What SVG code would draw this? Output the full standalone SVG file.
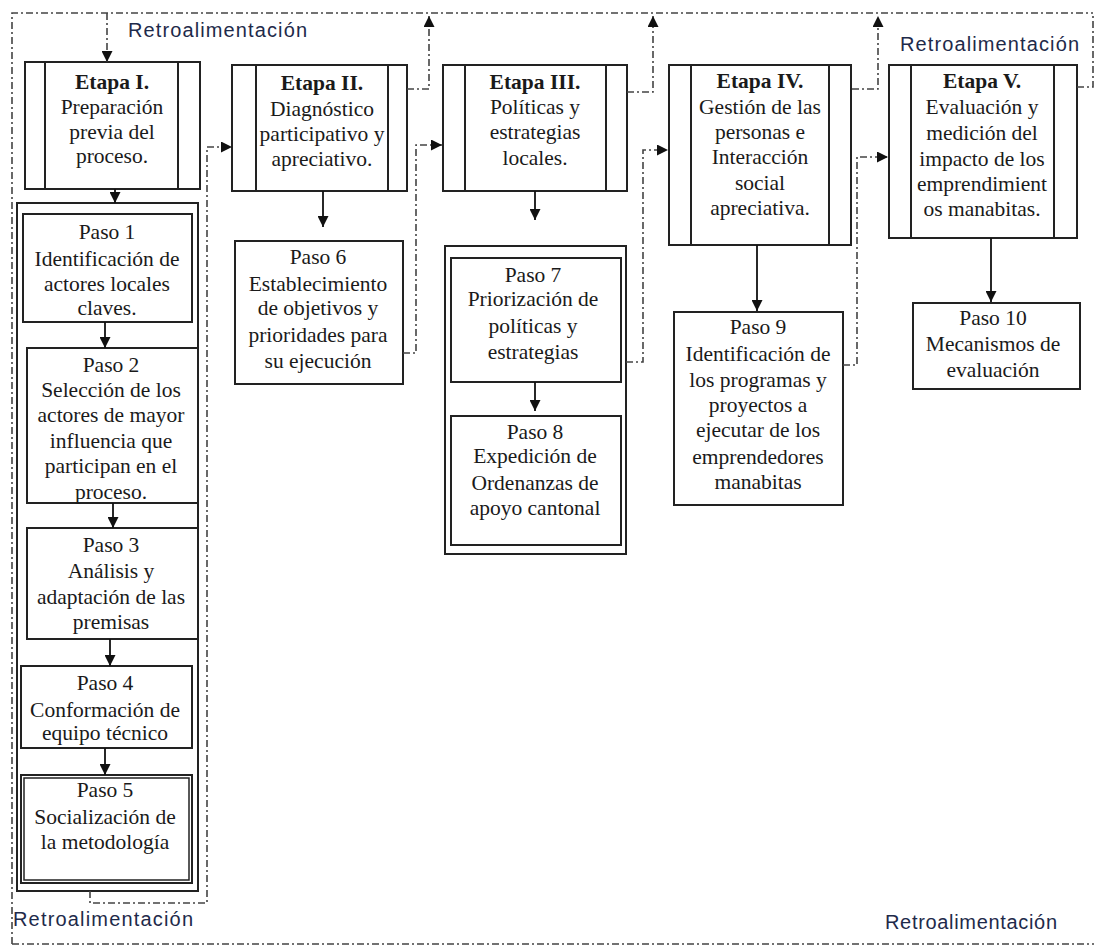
<svg xmlns="http://www.w3.org/2000/svg" width="1094" height="949" viewBox="0 0 1094 949">
<style>
.bx{fill:#fff;stroke:#222;stroke-width:2}
.ct{fill:none;stroke:#222;stroke-width:2}
.ln{stroke:#222;stroke-width:2}
.t{font-family:"Liberation Serif","Times New Roman",serif;font-size:21.5px;fill:#1a1a1a;text-anchor:middle}
.b{font-weight:bold}
.r{font-family:"Liberation Sans",Arial,sans-serif;font-size:20px;fill:#1e2a4a}
.dd{fill:none;stroke:#444;stroke-width:1.6;stroke-dasharray:7 3 2 3}
.sa{fill:none;stroke:#111;stroke-width:1.8}
</style>
<defs>
<marker id="ah" viewBox="0 0 10 10" refX="10" refY="5" markerWidth="11" markerHeight="11" markerUnits="userSpaceOnUse" orient="auto"><path d="M0,0 L10,5 L0,10 z" fill="#111"/></marker>
</defs>
<rect width="1094" height="949" fill="#fff"/>

<g id="labels">
<text class="r" x="128" y="37" textLength="179" lengthAdjust="spacing">Retroalimentación</text>
<text class="r" x="900" y="51" textLength="179" lengthAdjust="spacing">Retroalimentación</text>
<text class="r" x="13" y="926" textLength="180" lengthAdjust="spacing">Retroalimentación</text>
<text class="r" x="885" y="929" textLength="172" lengthAdjust="spacing">Retroalimentación</text>
</g>

<g id="etapa1">
<rect class="bx" x="25" y="62" width="175" height="127"/>
<line class="ln" x1="45" y1="62" x2="45" y2="189"/><line class="ln" x1="178" y1="62" x2="178" y2="189"/>
<text class="t b" x="112" y="89">Etapa I.</text>
<text class="t" x="112" y="114">Preparación</text>
<text class="t" x="112" y="139">previa del</text>
<text class="t" x="112" y="163">proceso.</text>
</g>

<g id="etapa2">
<rect class="bx" x="232" y="65" width="175" height="126"/>
<line class="ln" x1="256" y1="65" x2="256" y2="191"/><line class="ln" x1="388" y1="65" x2="388" y2="191"/>
<text class="t b" x="322" y="90">Etapa II.</text>
<text class="t" x="322" y="116">Diagnóstico</text>
<text class="t" x="322" y="141">participativo y</text>
<text class="t" x="322" y="166">apreciativo.</text>
</g>

<g id="etapa3">
<rect class="bx" x="443" y="65" width="184" height="126"/>
<line class="ln" x1="465" y1="65" x2="465" y2="191"/><line class="ln" x1="606" y1="65" x2="606" y2="191"/>
<text class="t b" x="535" y="89">Etapa III.</text>
<text class="t" x="535" y="114">Políticas y</text>
<text class="t" x="535" y="139">estrategias</text>
<text class="t" x="535" y="165">locales.</text>
</g>

<g id="etapa4">
<rect class="bx" x="669" y="65" width="182" height="180"/>
<line class="ln" x1="691" y1="65" x2="691" y2="245"/><line class="ln" x1="829" y1="65" x2="829" y2="245"/>
<text class="t b" x="760" y="88">Etapa IV.</text>
<text class="t" x="760" y="114">Gestión de las</text>
<text class="t" x="760" y="139">personas e</text>
<text class="t" x="760" y="164">Interacción</text>
<text class="t" x="760" y="190">social</text>
<text class="t" x="760" y="215">apreciativa.</text>
</g>

<g id="etapa5">
<rect class="bx" x="889" y="65" width="188" height="173"/>
<line class="ln" x1="911" y1="65" x2="911" y2="238"/><line class="ln" x1="1054" y1="65" x2="1054" y2="238"/>
<text class="t b" x="982" y="88">Etapa V.</text>
<text class="t" x="982" y="114">Evaluación y</text>
<text class="t" x="982" y="140">medición del</text>
<text class="t" x="982" y="166">impacto de los</text>
<text class="t" x="982" y="191">emprendimient</text>
<text class="t" x="982" y="216">os manabitas.</text>
</g>

<g id="container1">
<rect class="ct" x="17" y="203" width="181" height="688"/>
</g>

<g id="paso1">
<rect class="bx" x="23" y="214" width="169" height="108"/>
<text class="t" x="107" y="239">Paso 1</text>
<text class="t" x="107" y="266">Identificación de</text>
<text class="t" x="107" y="291">actores locales</text>
<text class="t" x="107" y="315">claves.</text>
</g>

<g id="paso2">
<rect class="bx" x="27" y="348" width="171" height="155"/>
<text class="t" x="111" y="372">Paso 2</text>
<text class="t" x="111" y="397">Selección de los</text>
<text class="t" x="111" y="422">actores de mayor</text>
<text class="t" x="111" y="448">influencia que</text>
<text class="t" x="111" y="473">participan en el</text>
<text class="t" x="111" y="499">proceso.</text>
</g>

<g id="paso3">
<rect class="bx" x="27" y="528" width="171" height="111"/>
<text class="t" x="111" y="552">Paso 3</text>
<text class="t" x="111" y="578">Análisis y</text>
<text class="t" x="111" y="604">adaptación de las</text>
<text class="t" x="111" y="629">premisas</text>
</g>

<g id="paso4">
<rect class="bx" x="21" y="666" width="171" height="82"/>
<text class="t" x="105" y="690">Paso 4</text>
<text class="t" x="105" y="717">Conformación de</text>
<text class="t" x="105" y="740">equipo técnico</text>
</g>

<g id="paso5">
<rect class="bx" x="21" y="775" width="171" height="108"/>
<rect fill="none" stroke="#222" stroke-width="1.5" x="24" y="778" width="165" height="102"/>
<text class="t" x="105" y="797">Paso 5</text>
<text class="t" x="105" y="824">Socialización de</text>
<text class="t" x="105" y="849">la metodología</text>
</g>

<g id="paso6">
<rect class="bx" x="235" y="241" width="168" height="143"/>
<text class="t" x="318" y="264">Paso 6</text>
<text class="t" x="318" y="291">Establecimiento</text>
<text class="t" x="318" y="315">de objetivos y</text>
<text class="t" x="318" y="342">prioridades para</text>
<text class="t" x="318" y="368">su ejecución</text>
</g>

<g id="container3">
<rect class="ct" x="445" y="246" width="181" height="308"/>
</g>

<g id="paso7">
<rect class="bx" x="451" y="258" width="170" height="124" stroke-width="2.6"/>
<text class="t" x="533" y="282">Paso 7</text>
<text class="t" x="533" y="306">Priorización de</text>
<text class="t" x="533" y="333">políticas y</text>
<text class="t" x="533" y="359">estrategias</text>
</g>

<g id="paso8">
<rect class="bx" x="451" y="416" width="170" height="129" stroke-width="2.6"/>
<text class="t" x="535" y="439">Paso 8</text>
<text class="t" x="535" y="463">Expedición de</text>
<text class="t" x="535" y="490">Ordenanzas de</text>
<text class="t" x="535" y="515">apoyo cantonal</text>
</g>

<g id="paso9">
<rect class="bx" x="674" y="312" width="169" height="193"/>
<text class="t" x="758" y="334">Paso 9</text>
<text class="t" x="758" y="361">Identificación de</text>
<text class="t" x="758" y="387">los programas y</text>
<text class="t" x="758" y="412">proyectos a</text>
<text class="t" x="758" y="437">ejecutar de los</text>
<text class="t" x="758" y="464">emprendedores</text>
<text class="t" x="758" y="489">manabitas</text>
</g>

<g id="paso10">
<rect class="bx" x="913" y="303" width="167" height="86"/>
<text class="t" x="993" y="325">Paso 10</text>
<text class="t" x="993" y="351">Mecanismos de</text>
<text class="t" x="993" y="377">evaluación</text>
</g>

<g id="connectors">
<path class="dd" d="M12,944 V13 H1093"/>
<path class="dd" d="M12,944 H1094"/>
<path class="dd" d="M107,13 V62" marker-end="url(#ah)"/>
<path class="dd" d="M407,89 H429 V16" marker-end="url(#ah)"/>
<path class="dd" d="M627,92 H653 V16" marker-end="url(#ah)"/>
<path class="dd" d="M852,89 H878 V16" marker-end="url(#ah)"/>
<path class="dd" d="M1077,87 H1093 V13"/>
<path class="dd" d="M90,891 V903 H207 V147 H232" marker-end="url(#ah)"/>
<path class="dd" d="M403,353 H416 V145 H442" marker-end="url(#ah)"/>
<path class="dd" d="M626,362 H643 V150 H668" marker-end="url(#ah)"/>
<path class="dd" d="M843,365 H857 V157 H888" marker-end="url(#ah)"/>
<path class="sa" d="M115,189 V203" marker-end="url(#ah)"/>
<path class="sa" d="M105,322 V348" marker-end="url(#ah)"/>
<path class="sa" d="M113,503 V528" marker-end="url(#ah)"/>
<path class="sa" d="M110,639 V666" marker-end="url(#ah)"/>
<path class="sa" d="M105,748 V775" marker-end="url(#ah)"/>
<path class="sa" d="M323,191 V227" marker-end="url(#ah)"/>
<path class="sa" d="M535,191 V220" marker-end="url(#ah)"/>
<path class="sa" d="M535,382 V411" marker-end="url(#ah)"/>
<path class="sa" d="M757,245 V311" marker-end="url(#ah)"/>
<path class="sa" d="M991,238 V302" marker-end="url(#ah)"/>
</g>
</svg>
